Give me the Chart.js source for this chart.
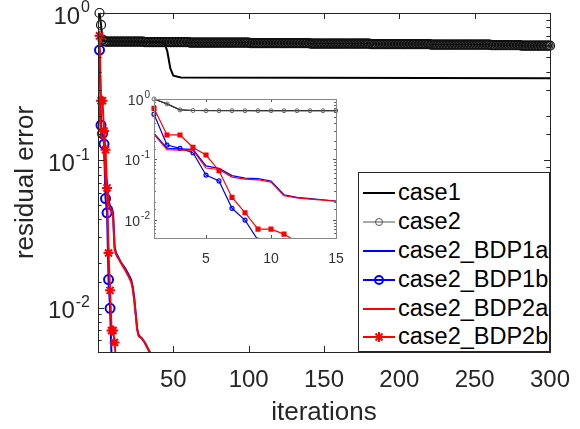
<!DOCTYPE html>
<html>
<head>
<meta charset="utf-8">
<script src="https://cdn.jsdelivr.net/npm/chart.js@4.4.0/dist/chart.umd.min.js"></script>
<style>
body { margin: 0; background: #fff; }
#wrap { position: relative; width: 580px; height: 429px; overflow: hidden; }
#main { position: absolute; left: 0; top: 0; }
#inset { position: absolute; left: 110px; top: 88px; }
#legend { position: absolute; left: 358px; top: 172px; width: 190px; height: 178px; border: 1px solid #262626; background: #fff;
  font-family: "Liberation Sans", Arial, sans-serif; font-size: 23.5px; color: #000; }
.row { position: absolute; left: 0; height: 29px; display: flex; align-items: center; white-space: nowrap; }
.row svg { margin-left: 4px; margin-right: 3px; }
</style>
</head>
<body>
<div id="wrap">
  <canvas id="main" width="580" height="429"></canvas>
  <canvas id="inset" width="240" height="180"></canvas>
  <div id="legend"></div>
</div>
<script>
// series (iteration -> residual error)
const case1Iter = [1, 2, 3, 4, 10, 20, 30, 44, 46, 48, 50, 55, 300];
const case1Err = [1.0, 0.83, 0.66, 0.645, 0.64, 0.64, 0.635, 0.63, 0.55, 0.42, 0.375, 0.365, 0.36];

// case2 has a marker at every iteration 1..300
const case2Err = [
  1.0, 0.83, 0.66, 0.645, 0.64, 0.64, 0.64, 0.64, 0.64, 0.64, 0.64, 0.64, 0.64, 0.64, 0.64, 0.64, 0.64, 0.64, 0.64, 0.64,
  0.64, 0.64, 0.64, 0.64, 0.64, 0.64, 0.64, 0.64, 0.64, 0.64, 0.635, 0.635, 0.635, 0.635, 0.635, 0.635, 0.635, 0.635, 0.635, 0.635,
  0.635, 0.635, 0.635, 0.635, 0.635, 0.635, 0.635, 0.635, 0.635, 0.635, 0.635, 0.635, 0.635, 0.635, 0.635, 0.635, 0.635, 0.635, 0.635, 0.635,
  0.63, 0.63, 0.63, 0.63, 0.63, 0.63, 0.63, 0.63, 0.63, 0.63, 0.63, 0.63, 0.63, 0.63, 0.63, 0.63, 0.63, 0.63, 0.63, 0.63,
  0.63, 0.63, 0.63, 0.63, 0.63, 0.63, 0.63, 0.63, 0.63, 0.63, 0.63, 0.63, 0.63, 0.63, 0.63, 0.63, 0.63, 0.63, 0.63, 0.63,
  0.625, 0.625, 0.625, 0.625, 0.625, 0.625, 0.625, 0.625, 0.625, 0.625, 0.625, 0.625, 0.625, 0.625, 0.625, 0.625, 0.625, 0.625, 0.625, 0.625,
  0.625, 0.625, 0.625, 0.625, 0.625, 0.625, 0.625, 0.625, 0.625, 0.625, 0.625, 0.625, 0.625, 0.625, 0.625, 0.625, 0.625, 0.625, 0.625, 0.625,
  0.62, 0.62, 0.62, 0.62, 0.62, 0.62, 0.62, 0.62, 0.62, 0.62, 0.62, 0.62, 0.62, 0.62, 0.62, 0.62, 0.62, 0.62, 0.62, 0.62,
  0.62, 0.62, 0.62, 0.62, 0.62, 0.62, 0.62, 0.62, 0.62, 0.62, 0.62, 0.62, 0.62, 0.62, 0.62, 0.62, 0.62, 0.62, 0.62, 0.62,
  0.615, 0.615, 0.615, 0.615, 0.615, 0.615, 0.615, 0.615, 0.615, 0.615, 0.615, 0.615, 0.615, 0.615, 0.615, 0.615, 0.615, 0.615, 0.615, 0.615,
  0.615, 0.615, 0.615, 0.615, 0.615, 0.615, 0.615, 0.615, 0.615, 0.615, 0.615, 0.615, 0.615, 0.615, 0.615, 0.615, 0.615, 0.615, 0.615, 0.615,
  0.61, 0.61, 0.61, 0.61, 0.61, 0.61, 0.61, 0.61, 0.61, 0.61, 0.61, 0.61, 0.61, 0.61, 0.61, 0.61, 0.61, 0.61, 0.61, 0.61,
  0.61, 0.61, 0.61, 0.61, 0.61, 0.61, 0.61, 0.61, 0.61, 0.61, 0.61, 0.61, 0.61, 0.61, 0.61, 0.61, 0.61, 0.61, 0.61, 0.61,
  0.605, 0.605, 0.605, 0.605, 0.605, 0.605, 0.605, 0.605, 0.605, 0.605, 0.605, 0.605, 0.605, 0.605, 0.605, 0.605, 0.605, 0.605, 0.605, 0.605,
  0.6, 0.6, 0.6, 0.6, 0.6, 0.6, 0.6, 0.6, 0.6, 0.6, 0.6, 0.6, 0.6, 0.6, 0.6, 0.6, 0.6, 0.6, 0.6, 0.6
];

const bdp1aIter = [1, 2, 3, 4, 5, 6, 7, 8, 9, 10, 11, 12, 13, 14, 15, 16, 18, 20, 22, 23, 24, 25, 26, 27, 29, 31, 33, 35];
const bdp1aErr = [0.27, 0.153, 0.149, 0.147, 0.078, 0.071, 0.054, 0.049, 0.048, 0.044, 0.026, 0.0235, 0.0225, 0.0215, 0.0205,
  0.0198, 0.0185, 0.017, 0.0155, 0.014, 0.0118, 0.0092, 0.0072, 0.0065, 0.0062, 0.0058, 0.0053, 0.0048];

const bdp1bErr = [0.56, 0.173, 0.152, 0.129, 0.055, 0.044, 0.0155, 0.0099, 0.0046];

const bdp2aIter = [1, 2, 3, 4, 5, 6, 7, 8, 9, 10, 11, 12, 13, 14, 15, 16, 18, 20, 22, 23, 24, 25, 26, 27, 29, 31, 33, 35];
const bdp2aErr = [0.26, 0.145, 0.142, 0.142, 0.072, 0.068, 0.051, 0.047, 0.046, 0.042, 0.025, 0.023, 0.022, 0.0212, 0.0203,
  0.0195, 0.018, 0.0165, 0.015, 0.0135, 0.0113, 0.009, 0.0071, 0.0064, 0.0062, 0.0058, 0.0053, 0.0049];

const bdp2bErr = [0.70, 0.254, 0.254, 0.158, 0.118, 0.065, 0.0235, 0.0131, 0.007, 0.007, 0.0058, 0.0043];

const seriesNames = ['case1', 'case2', 'case2_BDP1a', 'case2_BDP1b', 'case2_BDP2a', 'case2_BDP2b'];
const xTicks = [50, 100, 150, 200, 250, 300];
const insetXTicks = [5, 10, 15];
const yTickExps = [0, -1, -2];
const yMin = 0.005, yMax = 1;

const FONT = '"Liberation Sans", Arial, sans-serif';
const AXIS = '#262626';

function pairs(xs, ys) {
  return ys.map((v, i) => ({ x: xs[i], y: v }));
}
function seq(ys) {
  return ys.map((v, i) => ({ x: i + 1, y: v }));
}

// frame + inward ticks like the original figure
const boxTicks = {
  id: 'boxTicks',
  afterDatasetsDraw(chart, args, o) {
    const a = chart.chartArea, ctx = chart.ctx;
    const xs = chart.scales.x, ys = chart.scales.y;
    ctx.save();
    ctx.strokeStyle = o.color;
    ctx.lineWidth = 1;
    ctx.beginPath();
    xs.ticks.forEach(t => {
      const x = Math.round(xs.getPixelForValue(t.value)) + 0.5;
      ctx.moveTo(x, a.bottom); ctx.lineTo(x, a.bottom - o.len);
      ctx.moveTo(x, a.top); ctx.lineTo(x, a.top + o.len);
    });
    ys.ticks.forEach(t => {
      const lg = Math.log10(t.value);
      const major = Math.abs(lg - Math.round(lg)) < 1e-6;
      const len = major ? o.len : o.len * 0.6;
      const y = Math.round(ys.getPixelForValue(t.value)) + 0.5;
      ctx.moveTo(a.left, y); ctx.lineTo(a.left + len, y);
      ctx.moveTo(a.right, y); ctx.lineTo(a.right - len, y);
    });
    ctx.stroke();
    ctx.strokeStyle = o.frame || o.color;
    ctx.strokeRect(Math.round(a.left) + 0.5, Math.round(a.top) + 0.5, Math.round(a.width), Math.round(a.height));
    ctx.restore();
  }
};

// 10^n labels with raised exponent
const powerLabels = {
  id: 'powerLabels',
  afterDraw(chart, args, o) {
    const s = chart.scales.y, ctx = chart.ctx;
    ctx.save();
    ctx.fillStyle = o.color;
    ctx.textBaseline = 'middle';
    ctx.textAlign = 'right';
    yTickExps.forEach(p => {
      const y = s.getPixelForValue(Math.pow(10, p));
      const exp = String(p);
      ctx.font = o.exp + 'px ' + FONT;
      const ew = ctx.measureText(exp).width;
      ctx.fillText(exp, o.right, y - o.up);
      ctx.font = o.size + 'px ' + FONT;
      ctx.fillText('10', o.right - ew - 1, y + o.down);
    });
    ctx.restore();
  }
};

const whiteArea = {
  id: 'whiteArea',
  beforeDraw(chart) {
    const a = chart.chartArea, ctx = chart.ctx;
    ctx.save();
    ctx.fillStyle = '#fff';
    ctx.fillRect(a.left, a.top, a.width, a.height);
    ctx.restore();
  }
};

function makeDatasets(big) {
  const lw = big ? 2 : 1.2;
  const clip = { left: 8, top: 8, right: big ? 8 : 2, bottom: 0 };
  return [
    { label: seriesNames[0], data: pairs(case1Iter, case1Err), borderColor: '#000', borderWidth: lw, pointRadius: 0, order: 6, clip: clip },
    { label: seriesNames[1], data: seq(case2Err), borderColor: big ? '#111' : '#444', borderWidth: 1,
      pointStyle: 'circle', pointRadius: big ? 4.5 : 2, pointBorderWidth: big ? 1.2 : 1, pointBorderColor: big ? '#111' : '#666',
      pointBackgroundColor: 'rgba(0,0,0,0)', order: 5, clip: clip },
    { label: seriesNames[2], data: pairs(bdp1aIter, bdp1aErr), borderColor: '#0000ff', borderWidth: lw, pointRadius: 0, order: 4, clip: clip },
    { label: seriesNames[3], data: seq(bdp1bErr), borderColor: '#0000ff', borderWidth: big ? 2 : 1.2,
      pointStyle: 'circle', pointRadius: big ? 4.5 : 2, pointBorderWidth: big ? 2 : 1.2, pointBorderColor: '#0000ff',
      pointBackgroundColor: 'rgba(0,0,0,0)', order: 3, clip: clip },
    { label: seriesNames[4], data: pairs(bdp2aIter, bdp2aErr), borderColor: '#ff0000', borderWidth: lw, pointRadius: 0, order: 2, clip: clip },
    { label: seriesNames[5], data: seq(bdp2bErr), borderColor: '#ff0000', borderWidth: big ? 2 : 1.2,
      pointStyle: big ? 'star' : 'rect', pointRadius: big ? 5 : 2.2, pointBorderWidth: 2, pointBorderColor: '#ff0000',
      pointBackgroundColor: '#ff0000', order: 1, clip: clip }
  ];
}

new Chart(document.getElementById('main'), {
  type: 'line',
  data: { datasets: makeDatasets(true) },
  options: {
    responsive: false,
    animation: false,
    layout: { padding: { left: 0, top: 13, right: 30, bottom: 0 } },
    plugins: {
      legend: { display: false },
      tooltip: { enabled: false },
      boxTicks: { color: AXIS, len: 6 },
      powerLabels: { color: AXIS, right: 90, size: 24, exp: 16, up: 5, down: 4 }
    },
    scales: {
      x: {
        type: 'linear', min: 0, max: 300,
        afterBuildTicks: s => { s.ticks = xTicks.map(v => ({ value: v })); },
        afterFit: s => { s.height = 77; },
        grid: { display: false }, border: { display: false },
        ticks: { color: AXIS, padding: 6, font: { family: FONT, size: 24 } },
        title: { display: true, text: 'iterations', color: AXIS, padding: { top: 0, bottom: 1 }, font: { family: FONT, size: 26 } }
      },
      y: {
        type: 'logarithmic', min: yMin, max: yMax,
        afterFit: s => { s.width = 98; },
        grid: { display: false }, border: { display: false },
        ticks: { display: false },
        title: { display: true, text: 'residual error', color: AXIS, padding: { top: 10, bottom: 0 }, font: { family: FONT, size: 26 } }
      }
    }
  },
  plugins: [boxTicks, powerLabels]
});

new Chart(document.getElementById('inset'), {
  type: 'line',
  data: { datasets: makeDatasets(false) },
  options: {
    responsive: false,
    animation: false,
    layout: { padding: { left: 0, top: 11, right: 14, bottom: 0 } },
    plugins: {
      legend: { display: false },
      tooltip: { enabled: false },
      boxTicks: { color: '#555', frame: '#888', len: 3 },
      powerLabels: { color: '#333', right: 40, size: 14, exp: 10, up: 4, down: 2 }
    },
    scales: {
      x: {
        type: 'linear', min: 1, max: 15,
        afterBuildTicks: s => { s.ticks = insetXTicks.map(v => ({ value: v })); },
        afterFit: s => { s.height = 30; },
        grid: { display: false }, border: { display: false },
        ticks: { color: '#333', padding: 5, font: { family: FONT, size: 14 } }
      },
      y: {
        type: 'logarithmic', min: yMin, max: yMax,
        afterFit: s => { s.width = 44; },
        grid: { display: false }, border: { display: false },
        ticks: { display: false }
      }
    }
  },
  plugins: [whiteArea, boxTicks, powerLabels]
});

// legend box inside the axes, bottom right
const legendIcons = [
  '<line x1="0" y1="8" x2="32" y2="8" stroke="#000" stroke-width="2"/>',
  '<line x1="0" y1="8" x2="32" y2="8" stroke="#555" stroke-width="1"/><circle cx="16" cy="8" r="3.5" fill="none" stroke="#555" stroke-width="1"/>',
  '<line x1="0" y1="8" x2="32" y2="8" stroke="#0000ff" stroke-width="2"/>',
  '<line x1="0" y1="8" x2="32" y2="8" stroke="#0000ff" stroke-width="2"/><circle cx="16" cy="8" r="4" fill="none" stroke="#0000ff" stroke-width="2"/>',
  '<line x1="0" y1="8" x2="32" y2="8" stroke="#ff0000" stroke-width="2"/>',
  '<line x1="0" y1="8" x2="32" y2="8" stroke="#ff0000" stroke-width="2"/><path d="M16 3V13M11 8H21M12.5 4.5L19.5 11.5M19.5 4.5L12.5 11.5" stroke="#ff0000" stroke-width="2"/>'
];
const legendRowTops = [5, 34, 63, 92, 121, 149];
let html = '';
seriesNames.forEach((name, i) => {
  html += '<div class="row" style="top:' + legendRowTops[i] + 'px"><svg width="32" height="16">' + legendIcons[i] + '</svg><span>' + name + '</span></div>';
});
document.getElementById('legend').innerHTML = html;
</script>
</body>
</html>
